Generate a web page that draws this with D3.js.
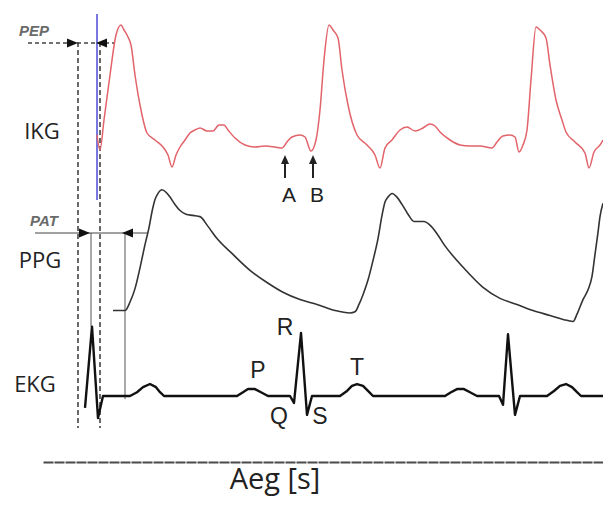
<!DOCTYPE html>
<html>
<head>
<meta charset="utf-8">
<script src="https://cdn.jsdelivr.net/npm/d3@7"></script>
<style>
  html, body { margin: 0; padding: 0; background: #fff; }
  svg { display: block; }
</style>
</head>
<body>
<svg id="chart" width="603" height="515"></svg>
<script>
// Time in seconds
const ikgTime = [0.485,0.500,0.520,0.550,0.580,0.605,0.620,0.640,0.655,0.675,0.705,0.735,0.775,0.815,0.840,0.860,0.880,0.900,0.925,0.950,0.975,1.000,1.035,1.065,1.095,1.120,1.140,1.175,1.225,1.275,1.325,1.375,1.410,1.435,1.460,1.500,1.525,1.555,1.580,1.600,1.620,1.645,1.665,1.690,1.710,1.740,1.785,1.835,1.875,1.900,1.925,1.960,2.000,2.035,2.075,2.115,2.150,2.175,2.200,2.250,2.300,2.350,2.400,2.460,2.485,2.515,2.550,2.575,2.595,2.615,2.635,2.655,2.680,2.700,2.730,2.750,2.780,2.810,2.830,2.875,2.925,2.945,2.970,3.000,3.015];
// Impedance cardiogram dZ/dt (Ohm/s)
const ikgValue = [0.10,-0.20,0.40,1.30,2.10,2.30,2.20,2.06,1.90,1.30,0.60,0.14,0.00,-0.14,-0.30,-0.54,-0.30,-0.14,0.00,0.14,0.20,0.24,0.18,0.18,0.30,0.30,0.20,0.04,-0.10,-0.14,-0.12,-0.14,-0.16,-0.04,0.06,0.10,0.06,-0.22,0.00,0.60,1.60,2.30,2.20,2.04,1.40,0.70,0.10,-0.10,-0.30,-0.56,-0.16,0.00,0.20,0.26,0.18,0.24,0.32,0.28,0.16,0.00,-0.10,-0.12,-0.12,-0.16,-0.04,0.08,0.10,0.06,-0.24,-0.10,0.20,1.20,2.26,2.20,2.04,1.50,0.80,0.40,0.16,-0.04,-0.26,-0.56,-0.24,-0.10,0.00];

const ppgTime = [0.565,0.625,0.650,0.675,0.700,0.725,0.745,0.760,0.775,0.790,0.810,0.830,0.850,0.875,0.900,0.930,0.965,1.000,1.040,1.085,1.165,1.250,1.335,1.415,1.500,1.585,1.675,1.750,1.775,1.795,1.815,1.840,1.865,1.890,1.910,1.925,1.940,1.960,1.985,2.010,2.040,2.070,2.095,2.120,2.150,2.185,2.225,2.285,2.335,2.415,2.500,2.585,2.665,2.750,2.835,2.865,2.885,2.915,2.940,2.960,2.975,2.990,3.000,3.015];
// Photoplethysmogram, normalised amplitude
const ppgValue = [0.02,0.02,0.09,0.20,0.37,0.56,0.70,0.83,0.93,0.98,1.01,0.99,0.95,0.89,0.84,0.81,0.80,0.79,0.71,0.61,0.48,0.35,0.25,0.17,0.11,0.07,0.02,0.00,0.01,0.07,0.15,0.27,0.43,0.61,0.80,0.91,0.95,0.98,0.95,0.89,0.81,0.75,0.75,0.75,0.72,0.65,0.55,0.43,0.34,0.21,0.12,0.07,0.02,-0.02,-0.06,-0.07,-0.01,0.11,0.19,0.30,0.48,0.66,0.79,0.90];

const ekgTime = [0.425,0.460,0.490,0.515,0.650,0.685,0.715,0.750,0.780,0.800,0.820,1.185,1.215,1.240,1.275,1.305,1.340,1.450,1.470,1.505,1.535,1.560,1.700,1.735,1.760,1.785,1.815,1.840,1.865,2.225,2.255,2.285,2.320,2.350,2.385,2.495,2.515,2.540,2.575,2.600,2.735,2.770,2.800,2.830,2.860,2.885,2.905,3.015];
// Electrocardiogram (mV)
const ekgValue = [-0.19,1.10,-0.35,0.00,0.00,0.06,0.14,0.19,0.14,0.06,0.00,0.00,0.06,0.11,0.11,0.06,0.00,0.00,-0.11,1.00,-0.30,0.00,0.00,0.08,0.16,0.19,0.16,0.08,0.00,0.00,0.06,0.11,0.11,0.06,0.00,0.00,-0.14,0.98,-0.30,0.00,0.00,0.08,0.16,0.19,0.14,0.06,0.00,0.00];

// Timing intervals (s)
const pepInterval = [0.39, 0.50];   // ECG onset -> B point
const patInterval = [0.455, 0.625]; // R peak -> pulse foot
const bPointTime = 0.485;
const abTimes = [1.425, 1.565];
const abLabels = ["A", "B"];

// ECG wave labels: [label, time, value]
const waveLabels = [["P",1.29,0.28],["R",1.425,0.97],["T",1.785,0.33],["Q",1.395,-0.45],["S",1.600,-0.45]];

const signalNames = ["IKG", "PPG", "EKG"];
const axisTitle = "Aeg [s]";

const svg = d3.select("#chart");

const x = d3.scaleLinear().domain([0, 3.015]).range([0, 603]);
const yIkg = d3.scaleLinear().domain([-0.6, 2.4]).range([170, 20]);
const yPpg = d3.scaleLinear().domain([0, 1]).range([313, 191]);
const yEkg = d3.scaleLinear().domain([0, 1]).range([396, 333]);

const lineOf = (ts, vs, y, curve) => d3.line()
  .x((d, i) => x(ts[i]))
  .y((d, i) => y(vs[i]))
  .curve(curve)(vs);

// Guide lines
const g = svg.append("g");

pepInterval.forEach(t => {
  g.append("line")
    .attr("x1", x(t)).attr("x2", x(t))
    .attr("y1", 42).attr("y2", 428)
    .attr("stroke", "#444").attr("stroke-width", 1.6)
    .attr("stroke-dasharray", "5,3");
});

g.append("line")
  .attr("x1", x(bPointTime)).attr("x2", x(bPointTime))
  .attr("y1", 14).attr("y2", 200)
  .attr("stroke", "#4b4bd6").attr("stroke-width", 1.5);

g.append("line")
  .attr("x1", x(patInterval[0])).attr("x2", x(patInterval[0]))
  .attr("y1", 233).attr("y2", yEkg(1.1))
  .attr("stroke", "#555").attr("stroke-width", 1);
g.append("line")
  .attr("x1", x(patInterval[1])).attr("x2", x(patInterval[1]))
  .attr("y1", 233).attr("y2", yEkg(-0.05))
  .attr("stroke", "#555").attr("stroke-width", 1);

// Interval arrows
function intervalArrow(interval, yPos, label, dashed, x0, x1, inset, labelX) {
  g.append("line")
    .attr("x1", x0).attr("x2", x1)
    .attr("y1", yPos).attr("y2", yPos)
    .attr("stroke", "#444").attr("stroke-width", dashed ? 1.5 : 1)
    .attr("stroke-dasharray", dashed ? "4,3" : null);
  const a = x(interval[0]) - inset[0], b = x(interval[1]) + inset[1];
  g.append("path")
    .attr("d", `M${a},${yPos} L${a - 11},${yPos - 4.5} L${a - 11},${yPos + 4.5} Z`)
    .attr("fill", "#111");
  g.append("path")
    .attr("d", `M${b},${yPos} L${b + 11},${yPos - 4.5} L${b + 11},${yPos + 4.5} Z`)
    .attr("fill", "#111");
  g.append("text")
    .attr("x", labelX).attr("y", yPos - 7)
    .attr("text-anchor", "middle")
    .attr("font-family", "Liberation Sans, Arial, sans-serif")
    .attr("font-style", "italic").attr("font-weight", "bold")
    .attr("font-size", 15).attr("fill", "#6a6a6a")
    .text(label);
}
intervalArrow(pepInterval, 43, "PEP", true, 28, 115, [0, -4], 34);
intervalArrow(patInterval, 233, "PAT", false, 35, 148, [1, -3], 44);

// Signals
svg.append("path")
  .attr("d", lineOf(ikgTime, ikgValue, yIkg, d3.curveMonotoneX))
  .attr("fill", "none").attr("stroke", "#e2636a").attr("stroke-width", 1.5)
  .attr("stroke-linejoin", "round");

svg.append("path")
  .attr("d", lineOf(ppgTime, ppgValue, yPpg, d3.curveMonotoneX))
  .attr("fill", "none").attr("stroke", "#333").attr("stroke-width", 1.6)
  .attr("stroke-linejoin", "round");

svg.append("path")
  .attr("d", lineOf(ekgTime, ekgValue, yEkg, d3.curveLinear))
  .attr("fill", "none").attr("stroke", "#111").attr("stroke-width", 2.4)
  .attr("stroke-linejoin", "round");

// A / B arrows on the IKG trace
abTimes.forEach((t, i) => {
  const cx = x(t);
  svg.append("line")
    .attr("x1", cx).attr("x2", cx).attr("y1", 178).attr("y2", 162)
    .attr("stroke", "#222").attr("stroke-width", 2);
  svg.append("path")
    .attr("d", `M${cx},${155} L${cx - 4},${164} L${cx + 4},${164} Z`)
    .attr("fill", "#222");
  svg.append("text")
    .attr("x", cx + 4).attr("y", 202)
    .attr("text-anchor", "middle")
    .attr("font-family", "Liberation Sans, Arial, sans-serif")
    .attr("font-size", 21).attr("fill", "#222")
    .text(abLabels[i]);
});

// ECG wave labels
waveLabels.forEach(([lab, t, v]) => {
  svg.append("text")
    .attr("x", x(t)).attr("y", yEkg(v))
    .attr("text-anchor", "middle")
    .attr("font-family", "Liberation Sans, Arial, sans-serif")
    .attr("font-size", 23).attr("fill", "#222")
    .text(lab);
});

// Signal names
const nameY = [139, 268, 392];
const nameX = [42, 40, 35];
signalNames.forEach((n, i) => {
  svg.append("text")
    .attr("x", nameX[i]).attr("y", nameY[i])
    .attr("text-anchor", "middle")
    .attr("font-family", "Open Sans, sans-serif")
    .attr("font-size", 22).attr("fill", "#222")
    .text(n);
});

// Time axis
const axisScale = x.copy().domain([0.215, 3.015]).range([x(0.215), x(3.015)]);
const axis = svg.append("g")
  .attr("transform", "translate(0,462)")
  .call(d3.axisBottom(axisScale).tickValues([]).tickSizeOuter(0));
axis.select(".domain")
  .attr("stroke", "#4a4a4a").attr("stroke-width", 2)
  .attr("stroke-dasharray", "10,1");

svg.append("text")
  .attr("x", 275).attr("y", 489)
  .attr("text-anchor", "middle")
  .attr("font-family", "Open Sans, sans-serif")
  .attr("font-size", 29).attr("fill", "#222")
  .text(axisTitle);
</script>
</body>
</html>
